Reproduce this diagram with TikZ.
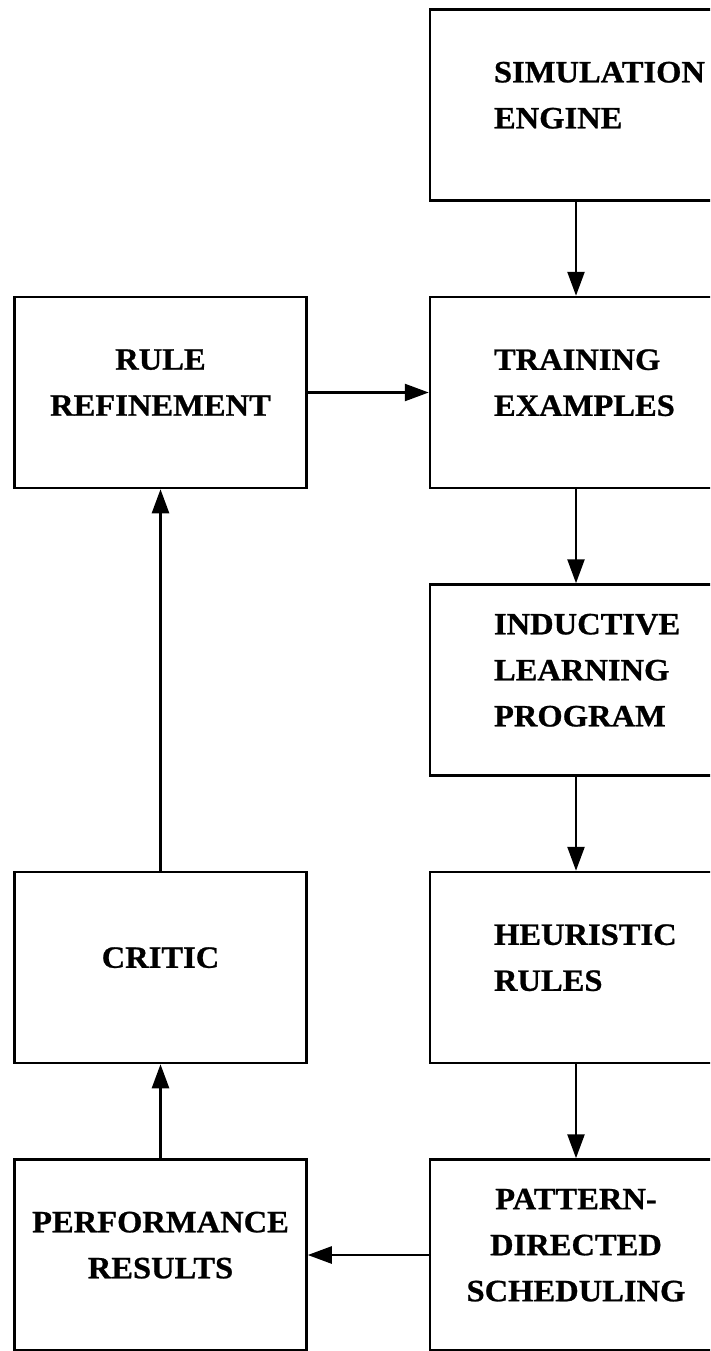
\documentclass[tikz,border=0pt]{standalone}
\usepackage{fontspec}
\newfontfamily\blockfont[FakeStretch=1.05,FakeBold=0.8]{Liberation Serif}
\usetikzlibrary{positioning,arrows.meta}

\begin{document}
\begin{tikzpicture}[x=1pt, y=1pt, node distance=94pt and 121pt,
  box/.style = {draw, line width=2.5pt, minimum width=292pt,
    minimum height=191pt,
    font=\blockfont\bfseries\fontsize{31}{46}\selectfont},
  stage/.style = {box, align=center, text depth=20pt},
  stageleft/.style = {box, align=left, text width=164pt, text height=1pt},
  flow/.style = {line width=2.5pt, -{Triangle[length=24pt,width=17pt]}}]
  \clip (0,0) rectangle (710,-1351);
  \useasboundingbox (0,0) rectangle (710,-1351);
  % right column
  \node[stageleft] (sim) at (576,-105) {SIMULATION\\ENGINE};
  \node[stageleft, below=of sim] (train) {TRAINING\\EXAMPLES};
  \node[stageleft, below=of train] (induct) {INDUCTIVE\\LEARNING\\PROGRAM};
  \node[stageleft, below=of induct] (heur) {HEURISTIC\\RULES};
  \node[stage, below=of heur] (pattern) {PATTERN-\\DIRECTED\\SCHEDULING};
  % left column
  \node[stage, left=of train] (refine) {RULE\\REFINEMENT};
  \node[stage, left=of heur] (critic) {CRITIC};
  \node[stage, left=of pattern] (perf) {PERFORMANCE\\RESULTS};
  % connectors
  \draw[flow] (sim) -- (train);
  \draw[flow] (train) -- (induct);
  \draw[flow] (induct) -- (heur);
  \draw[flow] (heur) -- (pattern);
  \draw[flow] (pattern) -- (perf);
  \draw[flow] (perf) -- (critic);
  \draw[flow] (critic) -- (refine);
  \draw[flow] (refine) -- (train);
\end{tikzpicture}
\end{document}
